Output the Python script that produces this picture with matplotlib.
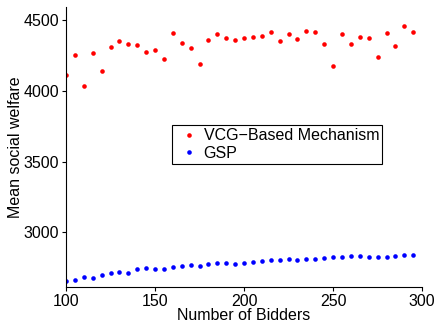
import matplotlib.pyplot as plt

plt.rcParams['font.family'] = ['Liberation Sans', 'DejaVu Sans']

# number of bidders in each run
bidders = list(range(100, 300, 5))

# mean social welfare, VCG-based mechanism
vcg = [4109, 4251, 4033, 4265, 4137, 4310, 4351, 4332, 4325, 4272,
       4291, 4225, 4410, 4336, 4306, 4187, 4358, 4400, 4377, 4363,
       4372, 4379, 4391, 4415, 4353, 4403, 4367, 4424, 4417, 4329,
       4175, 4403, 4332, 4384, 4374, 4242, 4412, 4318, 4457, 4417]

# mean social welfare, GSP
gsp = [2656, 2661, 2687, 2675, 2701, 2713, 2718, 2713, 2741, 2746,
       2739, 2741, 2758, 2765, 2767, 2762, 2776, 2781, 2781, 2779,
       2781, 2793, 2800, 2805, 2805, 2814, 2805, 2812, 2814, 2816,
       2823, 2823, 2835, 2833, 2828, 2826, 2826, 2835, 2842, 2840]

fs = 11.5

fig = plt.figure(figsize=(4.37, 3.26), dpi=100)
ax = fig.add_axes([0.151, 0.119, 0.815, 0.86])

ax.plot(bidders, vcg, 'o', color='red', markersize=3.3, markeredgewidth=0,
        label='VCG\u2212Based Mechanism')
ax.plot(bidders, gsp, 'o', color='blue', markersize=3.3, markeredgewidth=0,
        label='GSP')

ax.set_xlim(100, 300)
ax.set_ylim(2612, 4594)
ax.set_xticks([100, 150, 200, 250, 300])
ax.set_yticks([3000, 3500, 4000, 4500])
ax.spines['top'].set_visible(False)
ax.spines['right'].set_visible(False)
ax.tick_params(direction='out', length=3, labelsize=fs, pad=2)

ax.set_xlabel('Number of Bidders', fontsize=fs, labelpad=-1)
ax.set_ylabel('Mean social welfare', fontsize=fs, labelpad=0)

leg = ax.legend(loc='upper left', bbox_to_anchor=(0.297, 0.578), fontsize=fs,
                fancybox=False, framealpha=1, edgecolor='black',
                handlelength=1.7, handletextpad=0.1, borderpad=0.2,
                labelspacing=0.15, borderaxespad=0)
leg.get_frame().set_linewidth(0.8)

fig.savefig('out.png', dpi=100)
